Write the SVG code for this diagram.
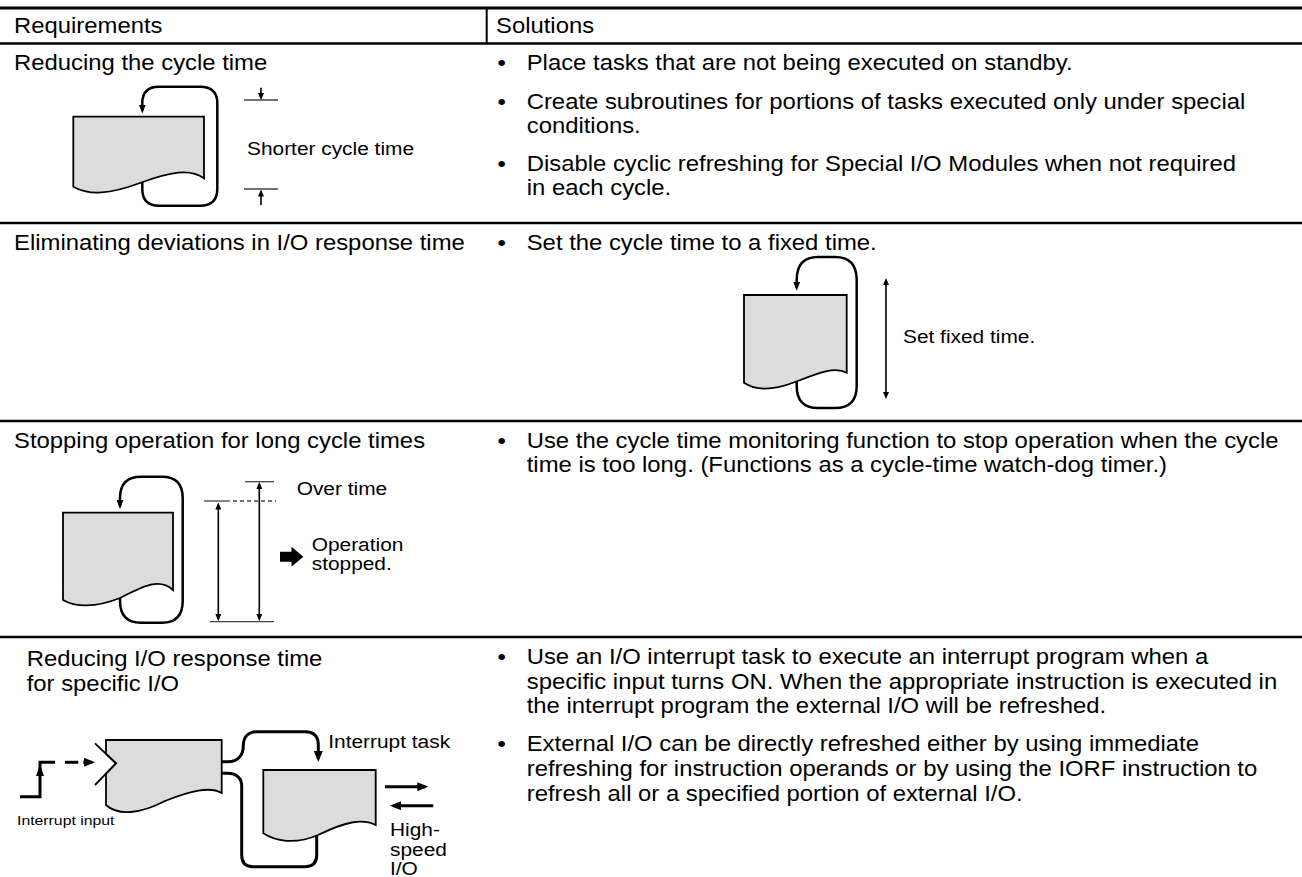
<svg xmlns="http://www.w3.org/2000/svg" width="1302" height="877" viewBox="0 0 1302 877">
<style>
text { font-family: "Liberation Sans", Arial, Helvetica, sans-serif; fill: #000; }
.t { font-size: 21.5px; }
.l { font-size: 18px; }
.s { font-size: 13.5px; }
.rule { stroke: #000; stroke-width: 2.5; }
.doc { fill: #dcdcdc; stroke: #000; stroke-width: 1.8; stroke-linejoin: miter; }
.loop { fill: none; stroke: #000; stroke-width: 2.5; }
.flow { fill: none; stroke: #000; stroke-width: 3; }
.dim { fill: none; stroke: #000; stroke-width: 1.6; }
.tick { fill: none; stroke: #444; stroke-width: 1.3; }
</style>
<defs>
<marker id="ah" viewBox="0 0 9 7" refX="6" refY="3.5" markerWidth="9" markerHeight="7" markerUnits="userSpaceOnUse" orient="auto"><path d="M0,0 L9,3.5 L0,7 z" fill="#000"/></marker>
<marker id="ahb" viewBox="0 0 11 9" refX="8" refY="4.5" markerWidth="11" markerHeight="9" markerUnits="userSpaceOnUse" orient="auto"><path d="M0,0 L11,4.5 L0,9 z" fill="#000"/></marker>
<marker id="ahs" viewBox="0 0 7 6" refX="5" refY="3" markerWidth="7" markerHeight="6" markerUnits="userSpaceOnUse" orient="auto-start-reverse"><path d="M0,0 L7,3 L0,6 z" fill="#000"/></marker>
</defs>
<rect width="1302" height="877" fill="#fff"/>

<g id="table">
<line class="rule" x1="0" y1="8" x2="1302" y2="8" style="stroke-width:3"/>
<line class="rule" x1="0" y1="43.5" x2="1302" y2="43.5"/>
<line class="rule" x1="486.7" y1="8" x2="486.7" y2="43.5" style="stroke-width:2"/>
<line class="rule" x1="0" y1="223" x2="1302" y2="223"/>
<line class="rule" x1="0" y1="421" x2="1302" y2="421"/>
<line class="rule" x1="0" y1="637" x2="1302" y2="637"/>
<text class="t" transform="translate(14,33) scale(1.11,1)">Requirements</text>
<text class="t" transform="translate(496,33) scale(1.11,1)">Solutions</text>
</g>

<g id="row1-text">
<text class="t" transform="translate(14,70) scale(1.11,1)">Reducing the cycle time</text>
<text class="t" transform="translate(497.5,70) scale(1.11,1)">•</text>
<text class="t" transform="translate(526.7,70) scale(1.11,1)">Place tasks that are not being executed on standby.</text>
<text class="t" transform="translate(497.5,108.5) scale(1.11,1)">•</text>
<text class="t" transform="translate(526.7,108.5) scale(1.11,1)">Create subroutines for portions of tasks executed only under special</text>
<text class="t" transform="translate(526.7,133) scale(1.11,1)">conditions.</text>
<text class="t" transform="translate(497.5,170.5) scale(1.11,1)">•</text>
<text class="t" transform="translate(526.7,170.5) scale(1.11,1)">Disable cyclic refreshing for Special I/O Modules when not required</text>
<text class="t" transform="translate(526.7,195) scale(1.11,1)">in each cycle.</text>
</g>

<g id="row2-text">
<text class="t" transform="translate(14,249.5) scale(1.11,1)">Eliminating deviations in I/O response time</text>
<text class="t" transform="translate(497.5,249.5) scale(1.11,1)">•</text>
<text class="t" transform="translate(526.7,249.5) scale(1.11,1)">Set the cycle time to a fixed time.</text>
</g>

<g id="row3-text">
<text class="t" transform="translate(14,447.5) scale(1.11,1)">Stopping operation for long cycle times</text>
<text class="t" transform="translate(497.5,447.5) scale(1.11,1)">•</text>
<text class="t" transform="translate(526.7,447.5) scale(1.11,1)">Use the cycle time monitoring function to stop operation when the cycle</text>
<text class="t" transform="translate(526.7,472) scale(1.11,1)">time is too long. (Functions as a cycle-time watch-dog timer.)</text>
</g>

<g id="row4-text">
<text class="t" transform="translate(26.7,665.5) scale(1.11,1)">Reducing I/O response time</text>
<text class="t" transform="translate(26.7,690.5) scale(1.11,1)">for specific I/O</text>
<text class="t" transform="translate(497.5,664) scale(1.11,1)">•</text>
<text class="t" transform="translate(526.7,664) scale(1.11,1)">Use an I/O interrupt task to execute an interrupt program when a</text>
<text class="t" transform="translate(526.7,688.5) scale(1.11,1)">specific input turns ON. When the appropriate instruction is executed in</text>
<text class="t" transform="translate(526.7,713) scale(1.11,1)">the interrupt program the external I/O will be refreshed.</text>
<text class="t" transform="translate(497.5,751) scale(1.11,1)">•</text>
<text class="t" transform="translate(526.7,751) scale(1.11,1)">External I/O can be directly refreshed either by using immediate</text>
<text class="t" transform="translate(526.7,776) scale(1.11,1)">refreshing for instruction operands or by using the IORF instruction to</text>
<text class="t" transform="translate(526.7,801) scale(1.11,1)">refresh all or a specified portion of external I/O.</text>
</g>

<g id="connectors">
<path class="loop" d="M142.3,182 V189 Q142.3,205.7 159,205.7 H200 Q217.3,205.7 217.3,189 V103 Q217.3,86.7 200,86.7 H159 Q142.3,86.7 142.3,103 V110.5" marker-end="url(#ah)"/>
<path class="dim" d="M261,87.7 V98" marker-end="url(#ahs)"/>
<path class="dim" d="M261,205 V191.5" marker-end="url(#ahs)"/>
<path class="loop" d="M796.7,381 V386 Q796.7,408 818,408 H835 Q856.7,408 856.7,386 V280 Q856.7,257 835,257 H818 Q796.7,257 796.7,280 V287.7" marker-end="url(#ah)"/>
<path class="dim" d="M886,280 V397" marker-start="url(#ahs)" marker-end="url(#ahs)"/>
<path class="loop" d="M120,597 V601 Q120,622.7 141,622.7 H162 Q182.7,622.7 182.7,601 V498 Q182.7,476.7 162,476.7 H141 Q120,476.7 120,498 V506" marker-end="url(#ah)"/>
<path class="dim" d="M218.3,504.5 V619" marker-start="url(#ahs)" marker-end="url(#ahs)"/>
<path class="dim" d="M259.3,484 V619" marker-start="url(#ahs)" marker-end="url(#ahs)"/>
<path class="flow" d="M20,796.7 H40 V762.3 H55"/>
<polygon points="40,764.5 36,776 44,776" fill="#000"/>
<path class="flow" d="M65,762.3 H78.3"/>
<path class="flow" d="M83.3,762.3 H92" marker-end="url(#ahb)"/>
<path class="flow" d="M138.3,761.7 H228 C238,761.7 243.3,755 243.3,746 C243.3,737 248,731.7 257,731.7 H305 Q318.3,731.7 318.3,745 V759" marker-end="url(#ahb)"/>
<path class="flow" d="M316.7,834 V855 Q316.7,866.7 305,866.7 H253 Q241.7,866.7 241.7,855 V786 C241.7,778 236,773.3 228,773.3 H144.7" marker-end="url(#ahb)"/>
<path class="flow" d="M385,786.7 H425.3" marker-end="url(#ahb)"/>
<path class="flow" d="M433.3,805.7 H393" marker-end="url(#ahb)"/>
</g>

<g id="node-row1-program">
<path class="doc" d="M73.3,116.7 H204 V178.3 C190,168 170,172 140,183 C110,194 90,196 73.3,186.7 Z"/>
</g>
<g id="node-row1-dimension">
<line class="tick" x1="244" y1="100" x2="278" y2="100"/>
<line class="tick" x1="244" y1="189" x2="278" y2="189"/>
<text class="l" transform="translate(247,155) scale(1.16,1)">Shorter cycle time</text>
</g>

<g id="node-row2-program">
<path class="doc" d="M744,295 H846.7 V372.7 C835,366 818,373 795,382 C772,391 755,390 744,382.7 Z"/>
</g>
<g id="node-row2-label">
<text class="l" transform="translate(903,343) scale(1.16,1)">Set fixed time.</text>
</g>

<g id="node-row3-program">
<path class="doc" d="M63,512.7 H173 V590 C160,578 145,585 120,598 C95,608 75,607 63,600 Z"/>
</g>
<g id="node-row3-dimension">
<line class="tick" x1="245" y1="481.7" x2="274" y2="481.7"/>
<line class="tick" x1="204" y1="501" x2="230" y2="501"/>
<line class="tick" x1="233" y1="501" x2="276" y2="501" stroke-dasharray="4,3"/>
<line class="tick" x1="210" y1="621.7" x2="274" y2="621.7"/>
<text class="l" transform="translate(296.7,495) scale(1.16,1)">Over time</text>
<polygon points="280,551.7 291.5,551.7 291.5,546.7 303.3,556.7 291.5,566.7 291.5,561.7 280,561.7" fill="#000"/>
<text class="l" transform="translate(311.7,550.5) scale(1.16,1)">Operation</text>
<text class="l" transform="translate(311.7,570) scale(1.16,1)">stopped.</text>
</g>

<g id="node-row4-main">
<path class="doc" d="M106,740 H221.7 V793 C210,786 190,791 165,801 C140,814 118,816 106,805 V773.6 L116,763.3 L106,753.8 Z"/>
<polyline points="95,743.3 116,763.3 95,785" fill="none" stroke="#000" stroke-width="1.8"/>
<text class="s" transform="translate(17,825) scale(1.17,1)">Interrupt input</text>
</g>
<g id="node-row4-interrupt">
<path class="doc" d="M263.3,770 H375.7 V825 C362,818 345,822 318,835 C295,845 275,841 263.3,833.3 Z"/>
<text class="l" transform="translate(328.3,748) scale(1.16,1)">Interrupt task</text>
</g>
<g id="node-row4-io">
<text class="l" transform="translate(390,836) scale(1.16,1)">High-</text>
<text class="l" transform="translate(390,855.5) scale(1.16,1)">speed</text>
<text class="l" transform="translate(390,875) scale(1.16,1)">I/O</text>
</g>
</svg>
